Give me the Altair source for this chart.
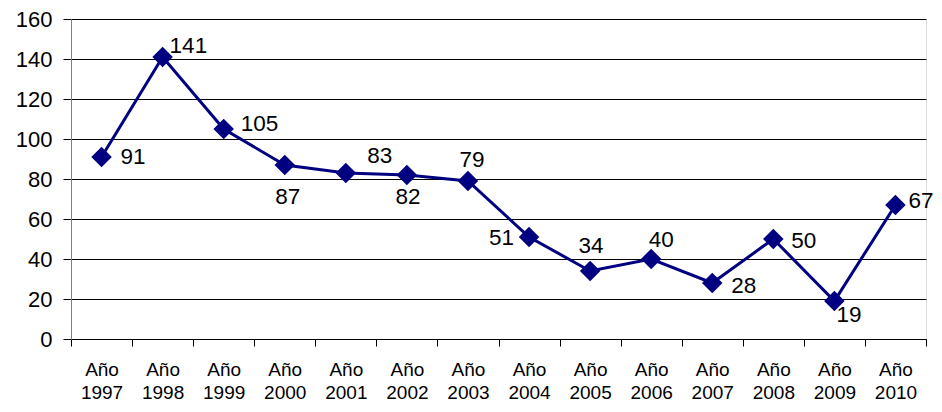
import altair as alt
import pandas as pd

years = [1997, 1998, 1999, 2000, 2001, 2002, 2003, 2004, 2005, 2006, 2007, 2008, 2009, 2010]
values = [91, 141, 105, 87, 83, 82, 79, 51, 34, 40, 28, 50, 19, 67]
categories = [f"Año {y}" for y in years]

# label placement (style only): dx, dy, align
label_style = {
    1997: (19, 0, "left"),
    1998: (7, -11, "left"),
    1999: (17, -5, "left"),
    2000: (3, 32, "center"),
    2001: (34, -17, "center"),
    2002: (1, 22, "center"),
    2003: (4, -21, "center"),
    2004: (-15, 1, "right"),
    2005: (1, -25, "center"),
    2006: (10, -19, "center"),
    2007: (19, 3, "left"),
    2008: (18, 2, "left"),
    2009: (2, 14, "left"),
    2010: (13, -4, "left"),
}

df = pd.DataFrame({"year": years, "cat": categories, "value": values})

NAVY = "#000080"
FONT = "Liberation Sans"

x = alt.X(
    "cat:N",
    sort=categories,
    scale=alt.Scale(paddingInner=0, paddingOuter=0),
    axis=alt.Axis(
        title=None,
        labelAngle=0,
        labelExpr="split(datum.label, ' ')",
        labelFont=FONT,
        labelFontSize=19,
        labelColor="#000",
        labelLineHeight=23,
        labelBaseline="top",
        labelPadding=14,
        tickBand="extent",
        tickSize=7,
        tickColor="#000",
        domainColor="#000",
        grid=False,
    ),
)
y = alt.Y(
    "value:Q",
    scale=alt.Scale(domain=[0, 160], nice=False),
    axis=alt.Axis(
        title=None,
        values=list(range(0, 161, 20)),
        labelFont=FONT,
        labelFontSize=22,
        labelColor="#000",
        labelPadding=11,
        tickSize=8,
        tickColor="#000",
        domainColor="#808080",
        grid=True,
        gridColor="#000",
        gridWidth=1,
    ),
)

base = alt.Chart(df).encode(x=x, y=y)
line = base.mark_line(color=NAVY, strokeWidth=3)
pts = base.mark_point(shape="diamond", filled=True, size=420, color=NAVY, opacity=1)

label_layers = []
for yr, (dx, dy, align) in label_style.items():
    label_layers.append(
        base.transform_filter(alt.datum.year == yr)
        .mark_text(dx=dx, dy=dy, align=align, baseline="middle",
                   font=FONT, fontSize=22.5, color="#000")
        .encode(text="value:Q")
    )

chart = alt.layer(line, pts, *label_layers).properties(
    width=855,
    height=320,
    autosize=alt.AutoSizeParams(type="none"),
    padding={"left": 63, "top": 11, "right": 8, "bottom": 65},
).configure_view(stroke=None).configure(background="white")

chart.save("out.html", embed_options={"renderer": "svg", "actions": False})
